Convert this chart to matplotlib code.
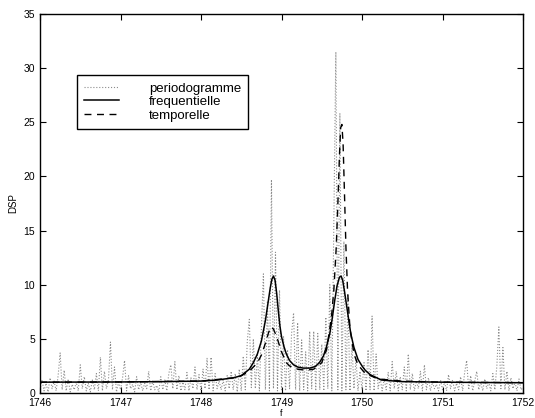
import matplotlib
matplotlib.use("Agg")
import matplotlib.pyplot as plt
import numpy as np

plt.rcParams['font.family'] = ['Liberation Sans', 'DejaVu Sans']

# periodogramme, pas de 0.025 a partir de 1746
f_per_start = 1746.0
f_per_step = 0.025
per = [
    0.3, 1.2, 0.2, 0.9, 0.1, 1.4, 0.4, 1.1, 0.2, 1.6,
    3.7, 0.3, 2.1, 0.2, 1.3, 0.1, 0.8, 0.3, 1.0, 0.2,
    2.6, 0.4, 1.5, 0.2, 0.9, 0.1, 1.2, 0.3, 1.8, 0.2,
    3.3, 0.2, 2.0, 0.4, 1.2, 4.7, 0.3, 2.4, 0.1, 1.0,
    0.3, 1.4, 3.0, 0.2, 1.6, 0.4, 0.8, 0.1, 1.5, 0.3,
    1.0, 0.2, 0.9, 0.4, 2.0, 0.2, 1.1, 0.3, 0.7, 0.1,
    1.5, 0.3, 1.2, 0.2, 1.8, 2.6, 0.4, 2.9, 0.3, 1.6,
    0.2, 1.0, 0.3, 1.9, 0.2, 1.4, 0.4, 2.4, 0.3, 1.7,
    0.2, 2.2, 0.4, 3.2, 0.3, 3.3, 0.2, 1.8, 0.4, 1.1,
    0.3, 1.2, 0.2, 1.6, 0.4, 2.0, 0.3, 1.8, 0.1, 2.2,
    0.2, 3.4, 0.3, 4.8, 6.8, 0.5, 5.0, 0.4, 3.5, 0.2,
    6.0, 11.0, 0.3, 8.5, 0.2, 19.7, 0.4, 13.0, 0.2, 9.5,
    0.3, 5.2, 0.2, 4.0, 0.4, 5.5, 7.4, 0.3, 6.5, 0.2,
    4.9, 0.3, 3.8, 0.2, 5.7, 0.4, 5.7, 0.2, 5.5, 0.3,
    4.5, 0.2, 7.0, 0.4, 10.0, 0.2, 16.0, 31.5, 0.3, 25.8,
    0.2, 14.0, 0.3, 9.0, 0.2, 4.5, 0.4, 3.2, 0.2, 2.0,
    0.3, 2.8, 0.2, 4.0, 0.3, 7.1, 0.2, 3.6, 0.4, 1.4,
    0.2, 1.3, 0.3, 1.9, 0.2, 2.9, 0.4, 2.0, 0.2, 1.5,
    0.3, 2.4, 0.2, 3.6, 0.3, 1.8, 0.2, 1.1, 0.4, 2.0,
    0.2, 2.6, 0.3, 1.4, 0.2, 1.0, 0.4, 0.8, 0.2, 1.2,
    0.3, 1.0, 0.2, 1.7, 0.4, 1.2, 0.2, 0.9, 0.3, 1.5,
    0.2, 1.9, 3.0, 0.3, 1.6, 0.2, 1.1, 2.0, 0.3, 1.0,
    0.2, 1.3, 0.4, 1.0, 0.2, 1.8, 0.3, 2.5, 6.1, 0.4,
    4.2, 0.3, 2.0, 0.2, 1.4, 0.4, 1.0, 0.2, 1.3, 0.3,
    0.5,
]
f_per = f_per_start + f_per_step * np.arange(len(per))

# estimation frequentielle
f_freq = [1746.0, 1747.0, 1747.5, 1748.0, 1748.2, 1748.4, 1748.5, 1748.6,
          1748.65, 1748.7, 1748.75, 1748.8, 1748.83, 1748.86, 1748.88, 1748.9,
          1748.92, 1748.94, 1748.96, 1748.98, 1749.0, 1749.03, 1749.06, 1749.1,
          1749.15, 1749.2, 1749.27, 1749.35, 1749.42, 1749.47, 1749.52, 1749.56,
          1749.6, 1749.63, 1749.66, 1749.69, 1749.72, 1749.74, 1749.76, 1749.78,
          1749.8, 1749.83, 1749.86, 1749.9, 1749.95, 1750.0, 1750.04, 1750.1,
          1750.24, 1750.5, 1751.0, 1751.5, 1752.0]
dsp_freq = [1.0, 1.02, 1.05, 1.1, 1.2, 1.4, 1.6, 2.2,
            2.8, 3.6, 4.8, 6.7, 8.2, 9.7, 10.5, 10.8,
            10.4, 9.2, 7.6, 6.2, 5.2, 4.3, 3.6, 3.0,
            2.6, 2.4, 2.3, 2.3, 2.45, 2.8, 3.4, 4.3,
            5.5, 6.9, 8.5, 9.9, 10.7, 10.8, 10.4, 9.5,
            8.5, 7.0, 5.5, 4.2, 3.1, 2.5, 2.1, 1.7,
            1.2, 1.05, 1.0, 0.97, 0.95]

# estimation temporelle
f_temp = [1746.0, 1747.0, 1748.0, 1748.4, 1748.5, 1748.6, 1748.7, 1748.75,
          1748.8, 1748.84, 1748.87, 1748.9, 1748.94, 1749.0, 1749.06, 1749.1,
          1749.2, 1749.3, 1749.4, 1749.5, 1749.56, 1749.62, 1749.65, 1749.68,
          1749.7, 1749.72, 1749.735, 1749.75, 1749.765, 1749.78, 1749.8, 1749.82,
          1749.85, 1749.9, 1749.95, 1750.04, 1750.2, 1750.5, 1751.0, 1752.0]
dsp_temp = [1.0, 1.02, 1.1, 1.4, 1.6, 2.0, 2.8, 3.5,
            4.6, 5.6, 6.1, 5.9, 5.2, 3.8, 2.8, 2.5,
            2.2, 2.1, 2.2, 2.8, 4.0, 7.0, 9.5, 13.5,
            17.5, 22.0, 24.5, 24.8, 23.0, 19.0, 13.5, 9.5,
            6.0, 3.6, 2.6, 1.8, 1.3, 1.1, 1.0, 0.95]

fig = plt.figure(figsize=(5.35, 4.18), dpi=100)
ax = fig.add_axes([0.0748, 0.0598, 0.9028, 0.9067])

ax.plot(f_per, per, linestyle=':', color='#8c8c8c', linewidth=0.8, label='periodogramme')
ax.plot(f_freq, dsp_freq, linestyle='-', color='black', linewidth=1.1, label='frequentielle')
ax.plot(f_temp, dsp_temp, linestyle=(0, (5, 4)), color='black', linewidth=1.0, label='temporelle')

ax.set_xlim(1746, 1752)
ax.set_ylim(0, 35)
ax.set_xticks(np.arange(1746, 1753, 1))
ax.set_yticks(np.arange(0, 36, 5))
ax.tick_params(direction='in', top=True, right=True, length=4, labelsize=7.5)
ax.get_xaxis().get_major_formatter().set_useOffset(False)
for s in ax.spines.values():
    s.set_linewidth(1.0)

ax.set_xlabel('f', fontsize=6.5, labelpad=1)
ax.set_ylabel('DSP', fontsize=7, labelpad=4)

leg = ax.legend(loc='upper left', bbox_to_anchor=(0.0766, 0.839), borderaxespad=0,
                fontsize=9.5, fancybox=False, framealpha=1, edgecolor='black',
                handlelength=2.6, handletextpad=2.3, labelspacing=0.1,
                borderpad=0.55)
leg.get_frame().set_linewidth(1.0)

fig.savefig('out.png', dpi=100)
